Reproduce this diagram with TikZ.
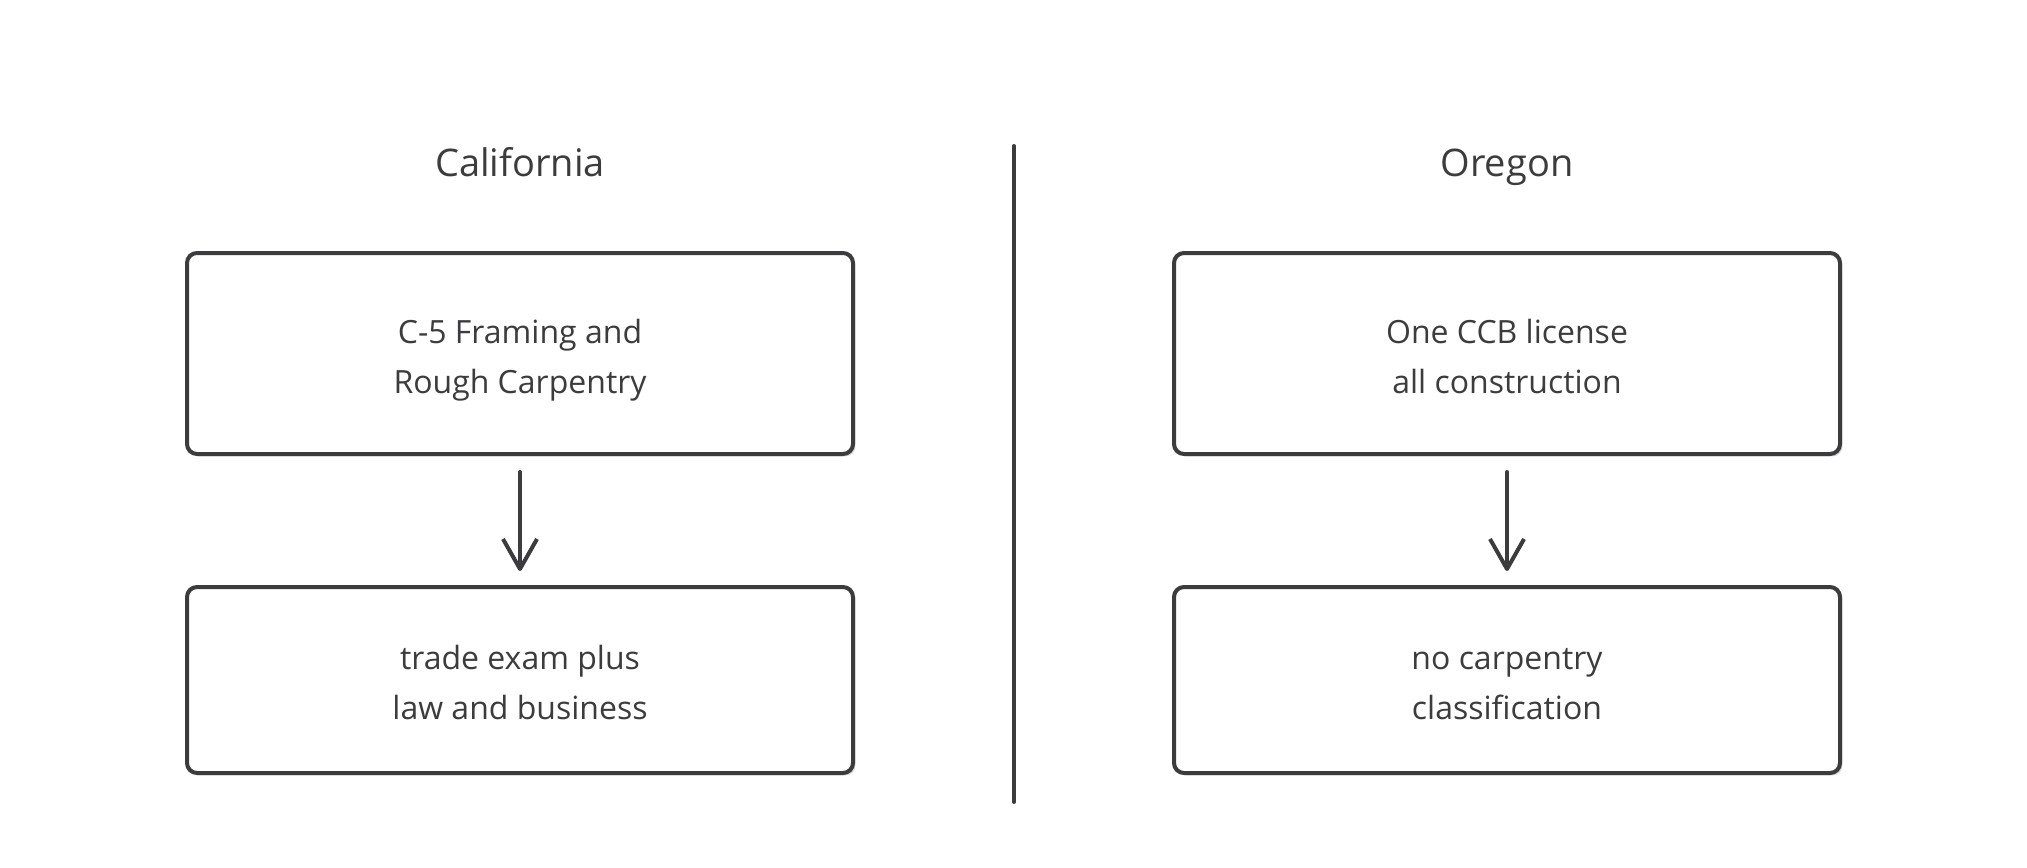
\documentclass[tikz,border=0pt]{standalone}
\usepackage{fontspec}
\setmainfont{Open Sans}
\usetikzlibrary{positioning,arrows.meta,shadows}
\definecolor{ink}{HTML}{3C3C3F}
\tikzset{
  stepbox/.style={draw=ink, line width=2pt, rounded corners=5pt, fill=white,
    minimum width=333pt, align=center, text=ink,
    font=\fontsize{16}{25}\selectfont, text height=43pt, text depth=3.5pt,
    drop shadow={shadow xshift=1.2pt, shadow yshift=-1.2pt, fill=black!16, opacity=1}},
  heading/.style={text=ink, font=\fontsize{19}{23}\selectfont, anchor=base},
  flow/.style={draw=ink, line width=2pt, line cap=round,
    -{Straight Barb[length=15pt, width=17pt, line join=round]},
    shorten <=8pt, shorten >=7pt},
  divider/.style={draw=ink, line width=2pt, line cap=round}
}
\begin{document}
\begin{tikzpicture}[x=0.5pt, y=-0.5pt]
  \useasboundingbox (0,0) rectangle (2027,867);
  % California
  \node[heading] (cal) at (520,176) {California};
  \node[stepbox, minimum height=100.5pt] (calA) at (520,353.5) {C-5 Framing and\\Rough Carpentry};
  \node[stepbox, minimum height=93pt, below=64.5pt of calA] (calB) {trade exam plus\\law and business};
  \draw[flow] (calA) -- (calB);
  % divider
  \coordinate (divtop) at (1014,146);
  \coordinate (divbot) at (1014,802);
  \draw[divider] (divtop) -- (divbot);
  % Oregon
  \node[heading] (ore) at (1507,176) {Oregon};
  \node[stepbox, minimum height=100.5pt] (oreA) at (1507,353.5) {One CCB license\\all construction};
  \node[stepbox, minimum height=93pt, below=64.5pt of oreA] (oreB) {no carpentry\\classification};
  \draw[flow] (oreA) -- (oreB);
\end{tikzpicture}
\end{document}
